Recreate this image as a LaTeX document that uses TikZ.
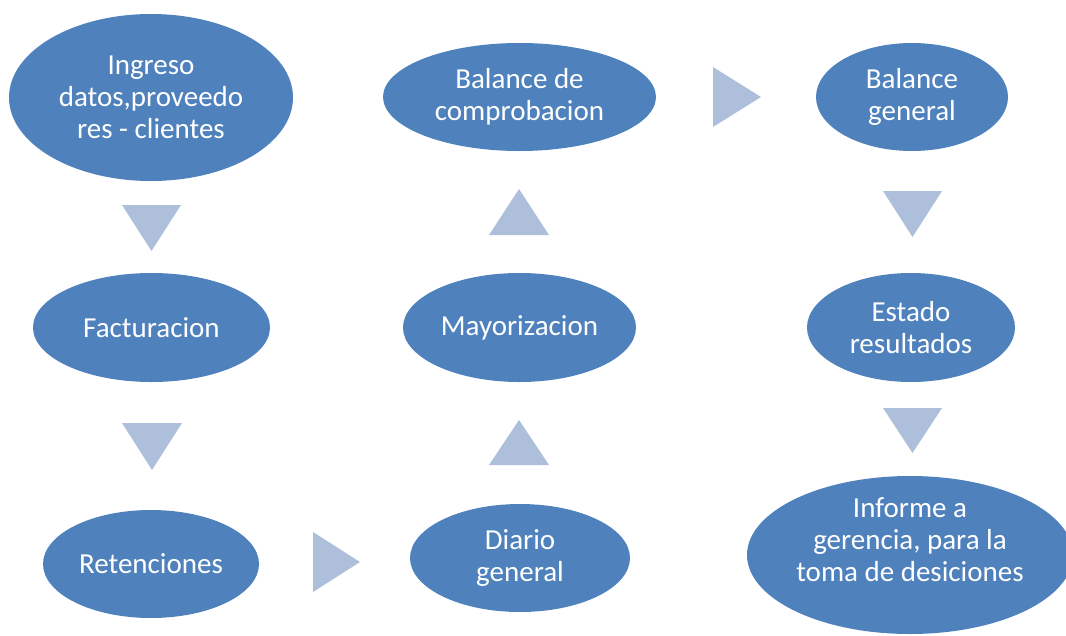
\documentclass[tikz,border=0pt]{standalone}
\usepackage{fontspec}
\setmainfont{Carlito}
\usetikzlibrary{shapes.geometric}
\definecolor{blobblue}{HTML}{4F81BD}
\definecolor{triblue}{HTML}{ADBFDB}
\begin{document}
\begin{tikzpicture}[x=1pt,y=-1pt,
  blob/.style={ellipse, fill=blobblue, draw=none, inner sep=0pt, text=white, align=center,
               font=\fontsize{29}{32}\selectfont},
  txt/.style={inner sep=0pt, text=white, align=center, font=\fontsize{29}{32}\selectfont},
  tri/.style={fill=triblue, draw=none}]
\useasboundingbox (0,0) rectangle (1066,635);
\clip (0,0) rectangle (1066,635);

% ellipses
\node[blob, minimum width=284pt, minimum height=167pt] (ingreso) at (151,97.5) {Ingreso\\datos,proveedo\\res - clientes};
\node[blob, minimum width=237pt, minimum height=109pt] (factur) at (151.5,327.5) {Facturacion};
\node[blob, minimum width=216pt, minimum height=108pt] (reten) at (151,564) {Retenciones};
\node[blob, minimum width=220pt, minimum height=108pt] (diario) at (520,558) {Diario\\general};
\node[blob, minimum width=233pt, minimum height=109pt] (mayor) at (519.5,327.5) {Mayorizacion};
\node[blob, minimum width=273pt, minimum height=108pt] (balcomp) at (519.5,97) {Balance de\\comprobacion};
\node[blob, minimum width=192pt, minimum height=108pt] (balgen) at (912,97) {Balance\\general};
\node[blob, minimum width=208pt, minimum height=109pt] (estado) at (911,327.5) {Estado\\resultados};
\node[blob, minimum width=326pt, minimum height=158pt] (informe) at (910,555) {};
\node[txt] (informetxt) at (910,540) {Informe a\\gerencia, para la\\toma de desiciones};

% triangles
\fill[tri] (122,205) -- (181,205) -- (151.5,251) -- cycle;
\fill[tri] (122,423) -- (182,423) -- (152,470) -- cycle;
\fill[tri] (313,532) -- (313,592) -- (360,562) -- cycle;
\fill[tri] (489,465) -- (549,465) -- (519,420) -- cycle;
\fill[tri] (489,235) -- (549,235) -- (519,189) -- cycle;
\fill[tri] (713,67) -- (713,127) -- (761,97) -- cycle;
\fill[tri] (883,191) -- (942,191) -- (912.5,237) -- cycle;
\fill[tri] (883,408) -- (942,408) -- (912.5,453) -- cycle;
\end{tikzpicture}
\end{document}
